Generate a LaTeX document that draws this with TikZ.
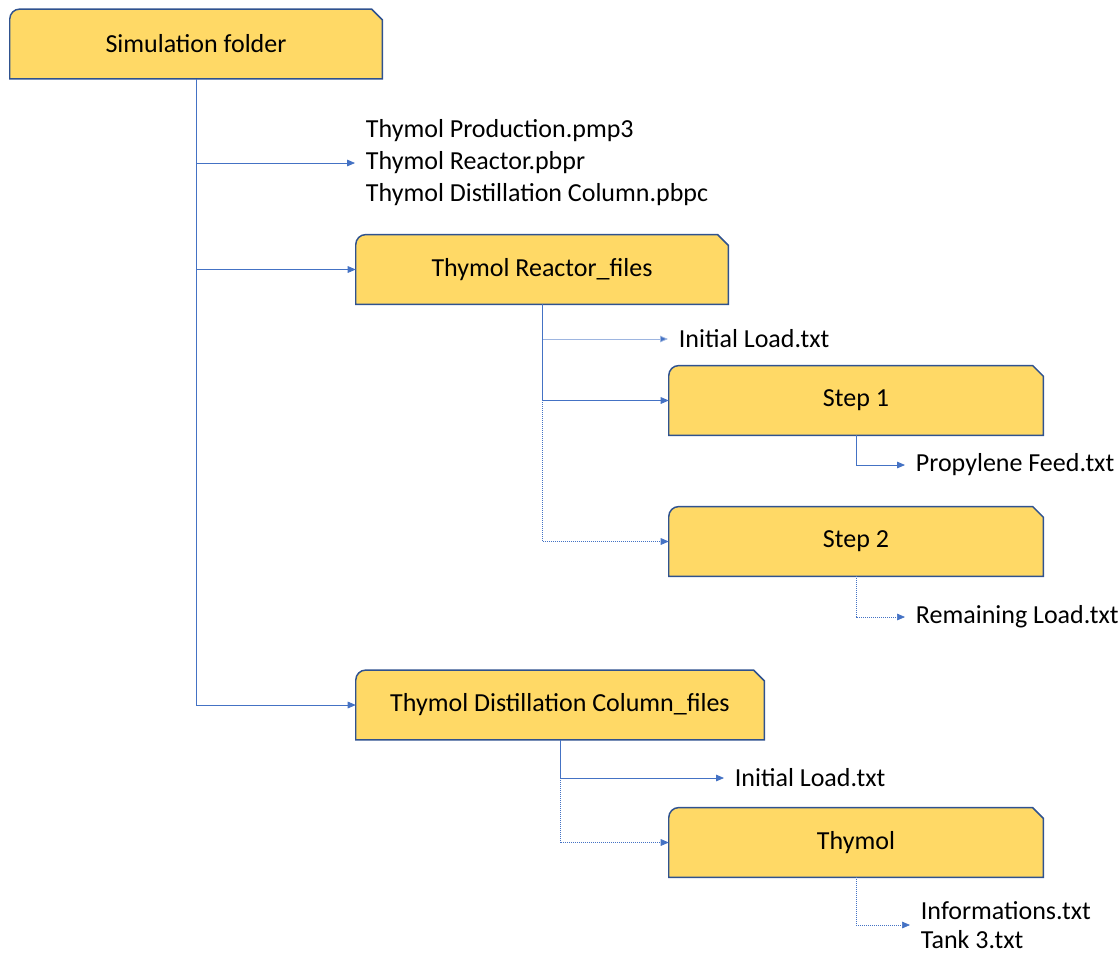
\documentclass[tikz,border=0pt]{standalone}
\usepackage{fontspec}
\setmainfont{Carlito}
\usetikzlibrary{arrows.meta,backgrounds}
\definecolor{boxfill}{HTML}{FFD966}
\definecolor{boxedge}{HTML}{2F528F}
\definecolor{linkc}{HTML}{4472C4}
\definecolor{linklight}{HTML}{9DB5E0}
\newcommand{\folderbg}[1]{%
  \begin{scope}[on background layer]
    \filldraw[fill=boxfill,draw=boxedge,line width=1.1pt]
      (#1.south west) [rounded corners=7.5pt] -- (#1.north west) [sharp corners]
      -- ([xshift=-8pt]#1.north east) -- ([yshift=-8pt]#1.north east)
      -- (#1.south east) -- cycle;
  \end{scope}}
\begin{document}
\begin{tikzpicture}[x=0.75pt,y=-0.75pt,
  every node/.style={font=\fontsize{19.5}{24}\selectfont},
  folder/.style={inner sep=0pt,minimum height=52pt},
  ftext/.style={anchor=west,inner xsep=8pt,inner ysep=0pt,align=left},
  conn/.style={draw=linkc,line width=0.6pt,-{Triangle[length=6pt,width=5pt]}},
  connlight/.style={draw=linklight,line width=0.6pt,-{Triangle[length=6pt,width=5pt,fill=linkc]}},
  conndot/.style={draw=linkc,line width=0.5pt,densely dotted,-{Triangle[length=6pt,width=5pt,fill=linkc]}}]
\useasboundingbox (0,0) rectangle (1120,954);

\node[folder,minimum width=279pt] (sim) at (196,44) {Simulation folder};
\folderbg{sim}

\node[ftext] (files) at (355,163) {Thymol Production.pmp3\\Thymol Reactor.pbpr\\Thymol Distillation Column.pbpc};

\node[folder,minimum width=279pt] (reactor) at (542,269.5) {Thymol Reactor\_files};
\folderbg{reactor}

\node[ftext] (init1) at (668,339) {Initial Load.txt};

\node[folder,minimum width=280.5pt] (step1) at (856,400.5) {Step 1};
\folderbg{step1}

\node[ftext] (prop) at (905,465) {Propylene Feed.txt};

\node[folder,minimum width=280.5pt] (step2) at (856,541.5) {Step 2};
\folderbg{step2}

\node[ftext] (rem) at (905,617) {Remaining Load.txt};

\node[folder,minimum width=306pt] (dist) at (560,705) {Thymol Distillation Column\_files};
\folderbg{dist}

\node[ftext] (init2) at (724,778) {Initial Load.txt};

\node[folder,minimum width=280.5pt] (thy) at (856,842.5) {Thymol};
\folderbg{thy}

\node[ftext,font=\fontsize{19.5}{21.5}\selectfont] (info) at (910,925) {Informations.txt\\Tank 3.txt};

% connectors
\draw[conn] (sim.south) |- (dist.west);
\draw[conn] (sim.south) |- (files.west);
\draw[conn] (sim.south) |- (reactor.west);

\draw[conndot] (reactor.south) |- (step2.west);
\draw[connlight] (reactor.south) |- (init1.west);
\draw[conn] (reactor.south) |- (step1.west);

\draw[conn] (step1.south) |- (prop.west);
\draw[conndot] (step2.south) |- (rem.west);

\draw[conndot] (dist.south) |- (thy.west);
\draw[conn] (dist.south) |- (init2.west);

\draw[conndot] (thy.south) |- (info.west);
\end{tikzpicture}
\end{document}
